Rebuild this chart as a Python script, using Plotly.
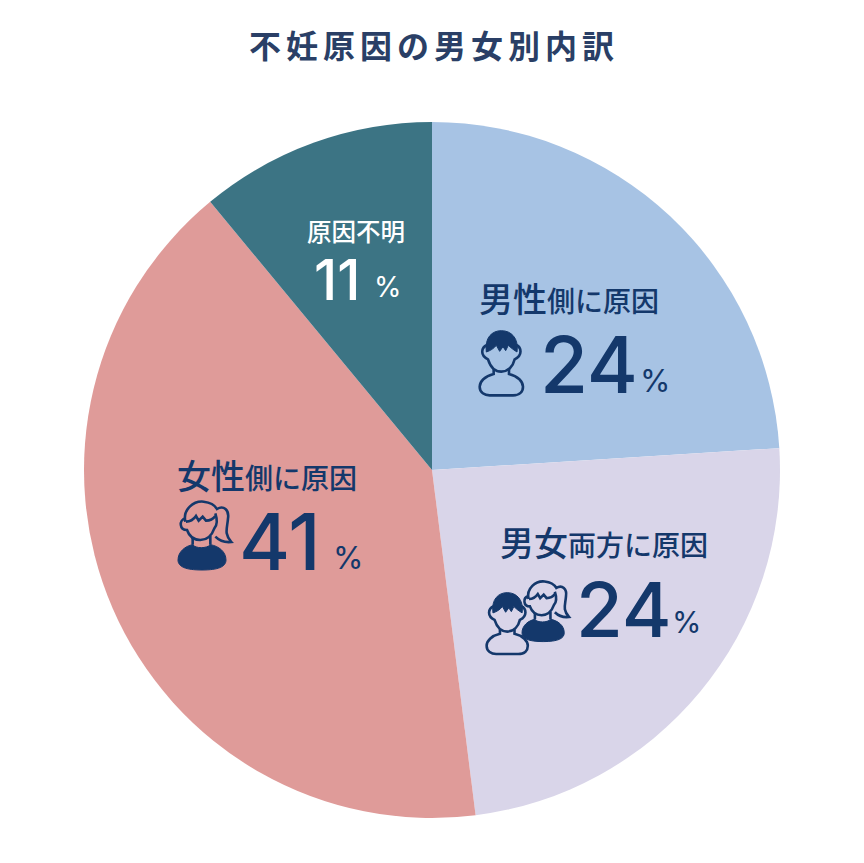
import plotly.graph_objects as go

W, H = 864, 863
CJK = "Noto Sans CJK JP"
NUM = "Inter"
NAVY = "#14386b"

categories = ["男性側に原因", "男女両方に原因", "女性側に原因", "原因不明"]
values = [24, 24, 41, 11]
slice_colors = ["#a7c3e4", "#d9d5e9", "#df9b99", "#3c7484"]
title_text = "不妊原因の男女別内訳"


def px(x, y):
    return x / W, 1 - y / H


def note(text, x, y, size, color=NAVY, family=CJK, weight=400):
    nx, ny = px(x, y)
    return dict(text=text, x=nx, y=ny, xref="paper", yref="paper", showarrow=False,
                xanchor="left", yanchor="middle", borderpad=0,
                font=dict(family=family, size=size, color=color, weight=weight))


def number(value, x, y, size=78, color=NAVY):
    return note(str(value), x, y, size, color, NUM, 500)


def label(cat, lead, x, y, color=NAVY):
    # first characters are set bigger than the rest
    return note(f"{cat[:lead]}<span style='font-size:28px'>{cat[lead:]}</span>", x, y, 34, color, weight=500)


def path(points, ox, oy, x0, y0, s):
    # points are drawn in zoomed units (3 per pixel) and moved into place
    out = []
    for p in points.split():
        cmd = ""
        if p[0].isalpha():
            cmd, p = p[0], p[1:]
        if not p:
            out.append(cmd)
            continue
        a, b = p.split(",")
        nx, ny = px(ox + s * (float(a) - x0) / 3, oy + s * (float(b) - y0) / 3)
        out.append(f"{cmd}{nx:.5f},{ny:.5f}")
    return " ".join(out)


def shape(d, fill=None, width=2.6):
    return dict(type="path", path=d, xref="paper", yref="paper",
                fillcolor=fill if fill else "rgba(0,0,0,0)",
                line=dict(color=NAVY, width=width))


def male_icon(ox, oy, s=1.0, bg=None):
    x0, y0 = 28, 180
    body = "M72,298 L72,312 C45,318 30,335 30,350 C30,368 45,376 60,376 L130,376 C150,376 160,365 160,350 C160,335 145,318 118,312 L118,298"
    head = "M52,225 C35,232 30,256 55,268 C62,290 75,305 95,305 C115,305 130,290 135,268 C160,256 155,232 140,225"
    hair = "M50,246 C44,202 68,182 95,182 C125,182 148,205 142,246 C132,240 124,234 116,226 L108,242 L100,230 L90,244 L80,226 C72,236 62,242 50,246 Z"
    return [shape(path(body, ox, oy, x0, y0, s), bg),
            shape(path(head, ox, oy, x0, y0, s), bg),
            shape(path(hair, ox, oy, x0, y0, s), NAVY, 1)]


def female_icon(ox, oy, s=1.0):
    x0, y0 = 38, 150
    hair = "M60,215 C52,178 85,152 115,155 C135,157 148,165 155,177 C175,165 192,180 188,205 C186,235 175,250 198,276 C180,278 162,272 150,260"
    bangs = "M62,215 C75,215 85,208 92,198 L100,212 L112,200 L122,212 C135,212 145,205 150,198"
    face = "M60,205 C40,210 42,240 65,240 C72,260 85,270 105,270 C125,270 140,255 147,235 C156,225 155,205 150,190"
    neck = "M82,262 L82,284 M135,258 L135,284"
    body = "M38,330 C38,305 60,288 82,284 C90,296 125,296 135,284 C160,288 182,305 182,330 C182,350 160,360 110,360 C60,360 38,350 38,330 Z"
    return [shape(path(hair, ox, oy, x0, y0, s)),
            shape(path(bangs, ox, oy, x0, y0, s)),
            shape(path(face, ox, oy, x0, y0, s)),
            shape(path(neck, ox, oy, x0, y0, s)),
            shape(path(body, ox, oy, x0, y0, s), NAVY, 1)]


fig = go.Figure(go.Pie(
    labels=categories, values=values, sort=False, direction="clockwise", rotation=0,
    marker=dict(colors=slice_colors, line=dict(width=0)), textinfo="none", showlegend=False,
    domain=dict(x=[84 / W, 780 / W], y=[1 - 818 / H, 1 - 122 / H]),
))

annotations = [
    note(f"<b><span style='letter-spacing:5px'>{title_text}</span></b>", 248, 44, 32, "#2a3f66"),
    label(categories[0], 2, 478, 297),
    number(values[0], 539, 364),
    note("%", 639, 380, 31, family=NUM),
    label(categories[1], 2, 499, 541),
    number(values[1], 575, 609, 76),
    note("%", 671, 622, 30, family=NUM),
    label(categories[2], 2, 176, 475),
    number(values[2], 238, 541),
    note("%", 332, 557, 31, family=NUM),
    note(categories[3], 306, 231, 24.5, "#ffffff", weight=500),
    number(values[3], 313, 280, 56, "#ffffff"),
    note("%", 373, 287, 28, "#ffffff", NUM),
]

shapes = (male_icon(479, 330) + female_icon(178, 500)
          + female_icon(522, 580, 0.88) + male_icon(486, 592, 0.95, slice_colors[1]))

fig.update_layout(width=W, height=H, margin=dict(l=0, r=0, t=0, b=0),
                  paper_bgcolor="white", annotations=annotations, shapes=shapes)
fig.write_html("out.html", config=dict(displayModeBar=False),
               post_script="document.body.style.margin='0';document.body.style.overflow='hidden';")
